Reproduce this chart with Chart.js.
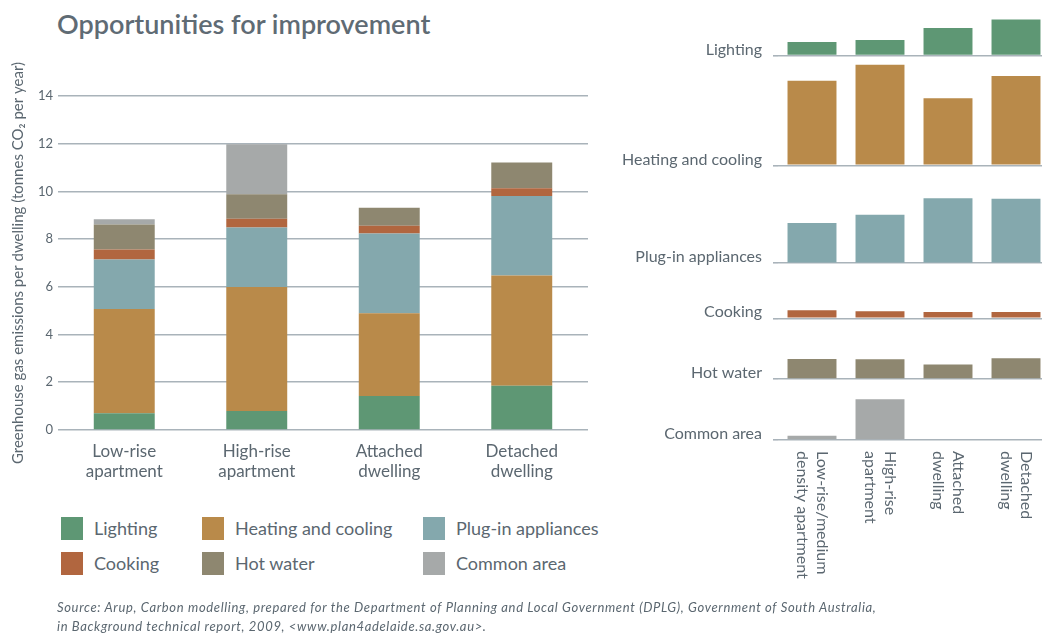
<!DOCTYPE html>
<html>
<head>
<meta charset="utf-8">
<script src="https://cdn.jsdelivr.net/npm/chart.js@4.4.1/dist/chart.umd.min.js"></script>
<style>
  html, body { margin:0; padding:0; width:1042px; height:635px; overflow:hidden; background:#fff; font-family: Lato, "Open Sans", sans-serif; color:#5b6770; }
  #title { position:absolute; left:57px; top:4px; font-size:27px; font-weight:600; line-height:40px; white-space:nowrap; color:#5f6b74; }
  #left { position:absolute; left:0; top:0; }
  #right { position:absolute; left:600px; top:-10px; }
  #legend { position:absolute; left:61px; top:516px; }
  .lg-item { position:absolute; display:flex; align-items:center; white-space:nowrap; font-size:18px; height:24px; }
  .lg-box { width:22px; height:23px; margin-right:11px; }
  #source { position:absolute; left:57px; top:598px; font-size:13px; letter-spacing:0.65px; font-style:italic; line-height:19px; white-space:nowrap; color:#5b6770; }
</style>
</head>
<body>
<div id="title">Opportunities for improvement</div>
<canvas id="left" width="600" height="500"></canvas>
<canvas id="right" width="450" height="610"></canvas>
<div id="legend"></div>
<div id="source">Source: Arup, Carbon modelling, prepared for the Department of Planning and Local Government (DPLG), Government of South Australia,<br>in Background technical report, 2009, &lt;www.plan4adelaide.sa.gov.au&gt;.</div>
<script>
// ---------- data ----------
const categories = [["Low-rise", "apartment"], ["High-rise", "apartment"], ["Attached", "dwelling"], ["Detached", "dwelling"]];
const smallCategories = [["Low-rise/medium", "density apartment"], ["High-rise", "apartment"], ["Attached", "dwelling"], ["Detached", "dwelling"]];
const seriesNames = ["Lighting", "Heating and cooling", "Plug-in appliances", "Cooking", "Hot water", "Common area"];
const lighting = [0.70, 0.80, 1.42, 1.86];
const heating  = [4.37, 5.19, 3.47, 4.62];
const plugIn   = [2.08, 2.50, 3.35, 3.33];
const cooking  = [0.42, 0.36, 0.32, 0.32];
const hotWater = [1.04, 1.03, 0.76, 1.08];
const common   = [0.22, 2.10, 0, 0];
const yTicks = [0, 2, 4, 6, 8, 10, 12, 14];

// ---------- styles ----------
const seriesValues = [lighting, heating, plugIn, cooking, hotWater, common];
const colors = ["#5e9774", "#b98a4a", "#84a8ad", "#b1663f", "#8e8770", "#a6a9a9"];
const textColor = "#5b6770";
const gridColor = "#a9b3ba";
const FONT = "Lato, 'Open Sans', sans-serif";

// ---------- left stacked chart ----------
const leftChart = new Chart(document.getElementById('left'), {
  type: 'bar',
  data: {
    labels: categories,
    datasets: seriesNames.map((n, i) => ({
      label: n, data: seriesValues[i], backgroundColor: colors[i],
      borderWidth: 0, barPercentage: 0.46, categoryPercentage: 1.0
    }))
  },
  options: {
    responsive: false, animation: false, devicePixelRatio: 1,
    layout: { padding: { top: 96, right: 12, bottom: 0, left: 0 } },
    plugins: { legend: { display: false }, tooltip: { enabled: false } },
    scales: {
      x: {
        stacked: true,
        grid: { display: false, drawTicks: false },
        border: { display: false },
        ticks: { color: textColor, font: { family: FONT, size: 17, lineHeight: 1.18 }, padding: 11, maxRotation: 0 },
        afterFit: s => { s.height = 70; }
      },
      y: {
        stacked: true, min: 0, max: 14,
        afterBuildTicks: s => { s.ticks = yTicks.map(v => ({ value: v })); },
        grid: { color: gridColor, lineWidth: 1.6, drawTicks: false },
        border: { display: false },
        ticks: { color: textColor, font: { family: FONT, size: 13 }, padding: 5 },
        title: { display: true, text: "Greenhouse gas emissions per dwelling (tonnes CO₂ per year)", color: textColor, font: { family: FONT, size: 15 }, padding: { top: 9, bottom: 0 } },
        afterFit: s => { s.width = 58; }
      }
    }
  }
});

// ---------- HTML legend (generated from the chart) ----------
(function () {
  const lg = document.getElementById('legend');
  const items = leftChart.options.plugins.legend.labels.generateLabels(leftChart);
  const colX = [0, 141, 362];
  items.forEach((it, i) => {
    const d = document.createElement('div');
    d.className = 'lg-item';
    d.style.left = colX[i % 3] + 'px';
    d.style.top = (Math.floor(i / 3) * 35) + 'px';
    d.innerHTML = '<span class="lg-box" style="background:' + it.fillStyle + '"></span><span>' + it.text + '</span>';
    lg.appendChild(d);
  });
})();

// ---------- right small multiples (stacked y scales) ----------
const rowMax = [2.32, 5.67, 5.05, 2.84, 3.14, 3.14];
const rightScales = {
  x: {
    grid: { display: false, drawTicks: false }, border: { display: false },
    ticks: { display: false },
    afterFit: s => { s.height = 160; }
  }
};
// the first stacked scale defined is laid out at the bottom, so add rows in reverse
for (let i = seriesNames.length - 1; i >= 0; i--) {
  const n = seriesNames[i];
  rightScales['y' + i] = {
    type: 'linear', position: 'left', stack: 'rows', stackWeight: rowMax[i],
    min: 0, max: rowMax[i],
    afterBuildTicks: s => { s.ticks = [{ value: 0 }]; },
    grid: { color: gridColor, lineWidth: 1.6, drawTicks: true, tickLength: 5, tickColor: gridColor },
    border: { display: false },
    ticks: { color: textColor, font: { family: FONT, size: 16 }, padding: 11, labelOffset: -6, callback: () => n },
    afterFit: s => { s.width = 178; }
  };
}

const rotatedLabels = {
  id: 'rotatedLabels',
  afterDraw(chart) {
    const ctx = chart.ctx, xs = chart.scales.x;
    ctx.save();
    ctx.fillStyle = textColor;
    ctx.font = "16px " + FONT;
    ctx.textAlign = 'left';
    ctx.textBaseline = 'middle';
    smallCategories.forEach((lines, i) => {
      const px = xs.getPixelForValue(i);
      ctx.save();
      ctx.translate(px, chart.chartArea.bottom + 11);
      ctx.rotate(Math.PI / 2);
      lines.forEach((t, j) => {
        ctx.fillText(t, 0, (j - (lines.length - 1) / 2) * 20);
      });
      ctx.restore();
    });
    ctx.restore();
  }
};

new Chart(document.getElementById('right'), {
  type: 'bar',
  data: {
    labels: smallCategories.map(c => c.join(' ')),
    datasets: seriesNames.map((n, i) => ({
      label: n, data: seriesValues[i], backgroundColor: colors[i], yAxisID: 'y' + i,
      grouped: false, borderWidth: 0, barPercentage: 0.72, categoryPercentage: 1.0
    }))
  },
  options: {
    responsive: false, animation: false, devicePixelRatio: 1,
    layout: { padding: { top: 0, right: 0, bottom: 0, left: 0 } },
    plugins: { legend: { display: false }, tooltip: { enabled: false } },
    scales: rightScales
  },
  plugins: [rotatedLabels]
});
</script>
</body>
</html>
